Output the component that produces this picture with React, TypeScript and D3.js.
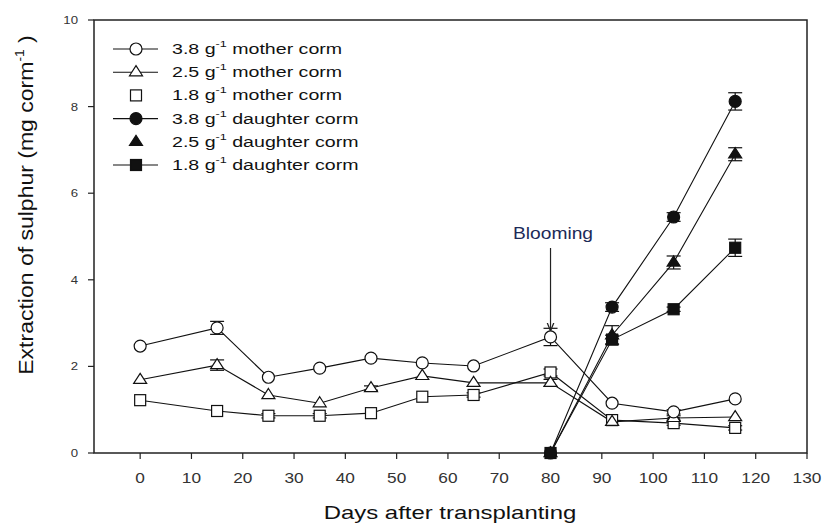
import React from 'react';
import * as d3 from 'd3';

// chart size
const width = 826;
const height = 524;

// data
const days = [0, 15, 25, 35, 45, 55, 65, 80, 92, 104, 116];
const daughterDays = [80, 92, 104, 116];

const mother38 = [2.47, 2.89, 1.75, 1.96, 2.19, 2.08, 2.01, 2.68, 1.15, 0.95, 1.25];
const mother25 = [1.69, 2.03, 1.34, 1.15, 1.5, 1.78, 1.62, 1.62, 0.72, 0.81, 0.83];
const mother18 = [1.22, 0.97, 0.86, 0.86, 0.92, 1.3, 1.34, 1.86, 0.76, 0.69, 0.58];
const daughter38 = [0, 3.37, 5.45, 8.12];
const daughter25 = [0, 2.72, 4.4, 6.9];
const daughter18 = [0, 2.62, 3.32, 4.74];

const mother38Err = [0, 0.15, 0, 0, 0, 0, 0, 0.2, 0, 0.05, 0];
const mother25Err = [0, 0.12, 0, 0, 0.05, 0, 0, 0.08, 0, 0.05, 0];
const mother18Err = [0, 0, 0.05, 0.05, 0, 0, 0.05, 0.08, 0, 0.05, 0.05];
const daughter38Err = [0, 0.1, 0.1, 0.2];
const daughter25Err = [0, 0.22, 0.15, 0.15];
const daughter18Err = [0, 0.1, 0.05, 0.2];

const xTicks = [0, 10, 20, 30, 40, 50, 60, 70, 80, 90, 100, 110, 120, 130];
const yTicks = [0, 2, 4, 6, 8, 10];

type Shape = 'circle' | 'triangle' | 'square';

const series = [
  { label: 'mother corm', size: '3.8', x: days, y: mother38, err: mother38Err, shape: 'circle' as Shape, filled: false, legendLine: true },
  { label: 'mother corm', size: '2.5', x: days, y: mother25, err: mother25Err, shape: 'triangle' as Shape, filled: false, legendLine: true },
  { label: 'mother corm', size: '1.8', x: days, y: mother18, err: mother18Err, shape: 'square' as Shape, filled: false, legendLine: false },
  { label: 'daughter corm', size: '3.8', x: daughterDays, y: daughter38, err: daughter38Err, shape: 'circle' as Shape, filled: true, legendLine: true },
  { label: 'daughter corm', size: '2.5', x: daughterDays, y: daughter25, err: daughter25Err, shape: 'triangle' as Shape, filled: true, legendLine: false },
  { label: 'daughter corm', size: '1.8', x: daughterDays, y: daughter18, err: daughter18Err, shape: 'square' as Shape, filled: true, legendLine: true },
];

const margin = { left: 94, right: 19, top: 20, bottom: 71 };

function Marker({ shape, filled, cx, cy }: { shape: Shape; filled: boolean; cx: number; cy: number }) {
  const fill = filled ? '#111' : '#fff';
  if (shape === 'circle') return <circle cx={cx} cy={cy} r={6} fill={fill} stroke="#111" strokeWidth={1.2} />;
  if (shape === 'square') return <rect x={cx - 5.5} y={cy - 5.5} width={11} height={11} fill={fill} stroke="#111" strokeWidth={1.2} />;
  const s = 6.5;
  return <path d={`M${cx},${cy - s} L${cx + s},${cy + s * 0.55} L${cx - s},${cy + s * 0.55} Z`} fill={fill} stroke="#111" strokeWidth={1.2} />;
}

export default function App() {
  const x = d3.scaleLinear().domain([-9, 130]).range([margin.left, width - margin.right]);
  const y = d3.scaleLinear().domain([0, 10]).range([height - margin.bottom, margin.top]);
  const font = '"Liberation Sans", Arial, sans-serif';

  const line = d3.line<[number, number]>().x(d => x(d[0])).y(d => y(d[1]));

  // draw filled series last-to-first so the daughter circle sits on top at day 80
  const drawOrder = series.map((s, i) => i).reverse();

  return (
    <svg width={width} height={height} style={{ position: 'absolute', left: 0, top: 0, background: '#fff' }} fontFamily={font}>
      {/* frame */}
      <rect x={x(-9)} y={y(10)} width={x(130) - x(-9)} height={y(0) - y(10)} fill="none" stroke="#222" strokeWidth={1.5} />

      {/* x ticks */}
      {xTicks.map(t => (
        <g key={'x' + t}>
          <line x1={x(t)} x2={x(t)} y1={y(0)} y2={y(0) + 6} stroke="#222" strokeWidth={1.2} />
          <text transform={`translate(${x(t)},${y(0) + 30}) scale(1.15,1)`} textAnchor="middle" fontSize={15} fill="#333">{t}</text>
        </g>
      ))}
      {/* y ticks */}
      {yTicks.map(t => (
        <g key={'y' + t}>
          <line x1={x(-9) - 6} x2={x(-9)} y1={y(t)} y2={y(t)} stroke="#222" strokeWidth={1.2} />
          <text transform={`translate(${x(-9) - 16},${y(t) + 4}) scale(1.2,1)`} textAnchor="end" fontSize={11} fill="#333">{t}</text>
        </g>
      ))}

      {/* axis titles */}
      <text transform="translate(450,519) scale(1.33,1)" textAnchor="middle" fontSize={18} fill="#111">Days after transplanting</text>
      <text transform="translate(33,205) rotate(-90) scale(1.15,1)" textAnchor="middle" fontSize={20} fill="#111">
        Extraction of sulphur (mg corm<tspan fontSize={12} dy={-9}>-1</tspan><tspan dy={9}> )</tspan>
      </text>

      {/* lines */}
      {series.map((s, i) => (
        <path key={'l' + i} d={line(s.x.map((d, j) => [d, s.y[j]] as [number, number])) || ''} fill="none" stroke="#111" strokeWidth={1.1} />
      ))}

      {/* error bars */}
      {series.map((s, i) =>
        s.x.map((d, j) =>
          s.err[j] > 0 ? (
            <g key={`e${i}-${j}`} stroke="#111" strokeWidth={1.2}>
              <line x1={x(d)} x2={x(d)} y1={y(s.y[j] + s.err[j])} y2={y(s.y[j] - s.err[j])} />
              <line x1={x(d) - 7} x2={x(d) + 7} y1={y(s.y[j] + s.err[j])} y2={y(s.y[j] + s.err[j])} />
              <line x1={x(d) - 7} x2={x(d) + 7} y1={y(s.y[j] - s.err[j])} y2={y(s.y[j] - s.err[j])} />
            </g>
          ) : null
        )
      )}

      {/* markers */}
      {drawOrder.map(i => {
        const s = series[i];
        return s.x.map((d, j) => <Marker key={`m${i}-${j}`} shape={s.shape} filled={s.filled} cx={x(d)} cy={y(s.y[j])} />);
      })}

      {/* blooming annotation */}
      <defs>
        <marker id="arrow" viewBox="0 0 10 10" refX={10} refY={5} markerWidth={7} markerHeight={9} orient="auto">
          <path d="M0,1 L10,5 L0,9" fill="none" stroke="#222" strokeWidth={1.5} />
        </marker>
      </defs>
      <text transform="translate(553,239) scale(1.2,1)" textAnchor="middle" fontSize={16} fill="#1c2a58">Blooming</text>
      <line x1={x(80)} x2={x(80)} y1={248} y2={331} stroke="#222" strokeWidth={1.2} markerEnd="url(#arrow)" />

      {/* legend */}
      {series.map((s, i) => {
        const cy = 49 + i * 23.2;
        return (
          <g key={'lg' + i}>
            {s.legendLine && <line x1={113} x2={158} y1={cy} y2={cy} stroke="#111" strokeWidth={1.1} />}
            <Marker shape={s.shape} filled={s.filled} cx={136} cy={cy} />
            <text transform={`translate(172,${cy + 5}) scale(1.4,1)`} fontSize={14} fill="#111">
              {s.size} g<tspan fontSize={9} dy={-7}>-1</tspan><tspan dy={7}> {s.label}</tspan>
            </text>
          </g>
        );
      })}
    </svg>
  );
}
